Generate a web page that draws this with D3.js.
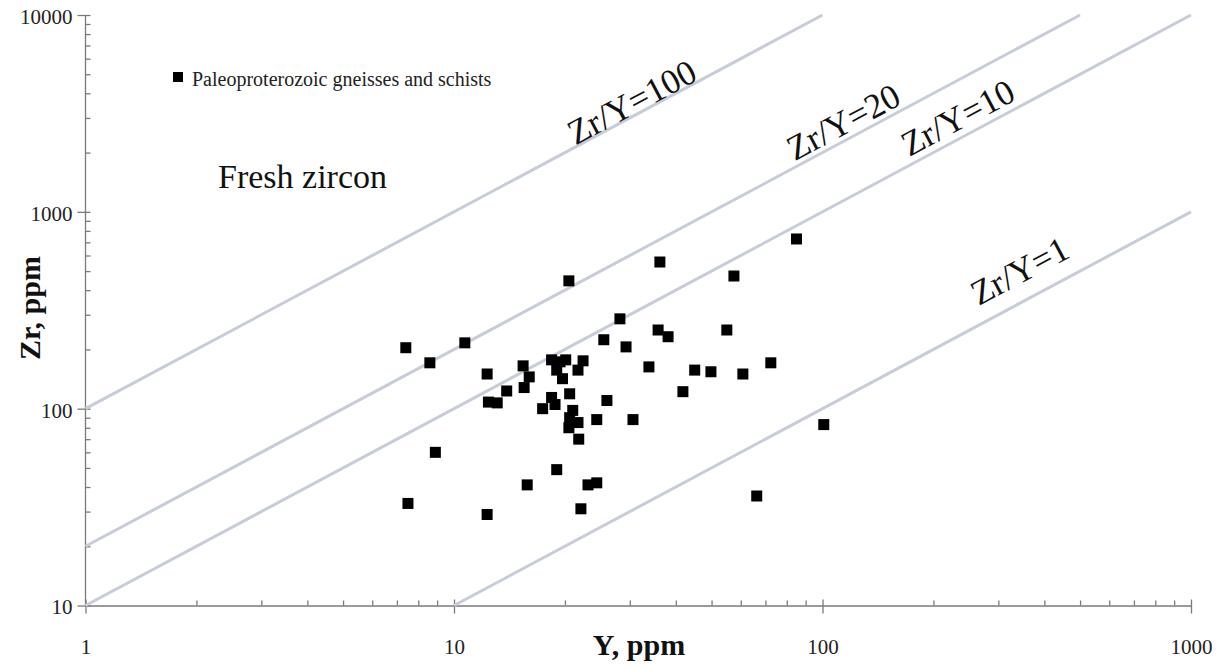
<!DOCTYPE html>
<html>
<head>
<meta charset="utf-8">
<script src="https://cdn.jsdelivr.net/npm/d3@7"></script>
<style>
  html, body { margin: 0; padding: 0; background: #fff; }
  svg { display: block; font-family: "Liberation Serif", "Times New Roman", serif; }
</style>
</head>
<body>
<div id="chart"></div>
<script>
// Zr vs Y, log-log, with Zr/Y reference lines
const width = 1229, height = 668;
const plot = {left: 85.5, right: 1191, top: 15, bottom: 605.5};

// sample values (Y ppm, Zr ppm)
const yPpm = [7.4, 10.7, 8.6, 12.3, 13.9, 12.4, 13.1, 8.9, 7.5, 12.3,
  15.4, 16.0, 15.5, 18.4, 19.4, 20.1, 19.0, 19.7, 22.4, 21.7,
  25.5, 29.3, 20.6, 18.4, 18.8, 17.4, 21.0, 20.6, 21.7, 20.5,
  21.8, 26.0, 24.4, 30.6, 19.0, 15.8, 23.1, 24.4, 22.1, 20.5,
  28.2, 36.2, 35.8, 85, 57.5, 38.1, 55, 33.8, 45, 49.8,
  60.8, 72.4, 41.8, 100.8, 66.3];
const zrPpm = [204, 216, 171, 150, 123, 108, 107, 60, 33, 29,
  165, 145, 128, 177, 173, 177, 157, 142, 175, 157,
  224, 206, 119, 114, 105, 100, 98, 90, 85, 80,
  70, 110, 88, 88, 49, 41, 41, 42, 31, 446,
  286, 556, 251, 728, 472, 232, 251, 163, 157, 154,
  150, 171, 122, 83, 36];

// reference lines Zr/Y = k, drawn between two Y values
const ratios = [100, 20, 10, 1];
const ratioFrom = [1, 1, 1, 10];
const ratioTo = [100, 500, 1000, 1000];
// label centres (Y, Zr) for each reference line
const labelY = [30.4, 114, 233, 343];
const labelZr = [3600, 2850, 3000, 500];

const xTicks = [1, 10, 100, 1000];
const yTicks = [10, 100, 1000, 10000];

const svg = d3.select("#chart").append("svg")
  .attr("width", width).attr("height", height);

const x = d3.scaleLog().domain([1, 1000]).range([plot.left, plot.right]);
const y = d3.scaleLog().domain([10, 10000]).range([plot.bottom, plot.top]);

const minorOf = ticks => {
  const out = [];
  ticks.slice(0, -1).forEach(t => { for (let m = 2; m < 10; m++) out.push(t * m); });
  return out;
};

const axisColor = "#7a7a7a";

// x axis
const gx = svg.append("g").attr("transform", `translate(0,${plot.bottom})`);
gx.call(d3.axisBottom(x).tickValues(minorOf(xTicks)).tickSizeInner(-5).tickSizeOuter(0).tickFormat(""));
const gx2 = svg.append("g").attr("transform", `translate(0,${plot.bottom})`);
gx2.call(d3.axisBottom(x).tickValues(xTicks).tickSizeOuter(0).tickFormat(d3.format("d")));
gx2.select(".domain").remove();
gx2.selectAll(".tick line").attr("y1", -6).attr("y2", 8);
gx2.selectAll(".tick text").attr("y", 34).attr("dy", "0.7em")
  .attr("font-size", 21).attr("font-family", "Liberation Serif").attr("fill", "#222");

// y axis
const gy = svg.append("g").attr("transform", `translate(${plot.left},0)`);
gy.call(d3.axisLeft(y).tickValues(minorOf(yTicks)).tickSizeInner(-5).tickSizeOuter(0).tickFormat(""));
gy.select(".domain").attr("d", `M0,${plot.bottom}V${plot.top}`);
const gy2 = svg.append("g").attr("transform", `translate(${plot.left},0)`);
gy2.call(d3.axisLeft(y).tickValues(yTicks).tickSizeOuter(0).tickFormat(d3.format("d")));
gy2.select(".domain").remove();
gy2.selectAll(".tick line").attr("x1", 5).attr("x2", -8);
gy2.selectAll(".tick text").attr("x", -13).attr("dy", "0.4em")
  .attr("font-size", 21).attr("font-family", "Liberation Serif").attr("fill", "#222");

svg.selectAll(".domain, .tick line").attr("stroke", axisColor).attr("stroke-width", 1.3);

// axis titles
svg.append("text").attr("x", 639).attr("y", 655).attr("text-anchor", "middle")
  .attr("font-size", 30).attr("font-weight", "bold").attr("fill", "#111").text("Y, ppm");
svg.append("text").attr("transform", "translate(40,308) rotate(-90)").attr("text-anchor", "middle")
  .attr("font-size", 30).attr("font-weight", "bold").attr("fill", "#111").text("Zr, ppm");

// reference lines
const angle = -Math.atan2(y(10) - y(100), x(10) - x(1)) * 180 / Math.PI;
ratios.forEach((k, i) => {
  svg.append("line")
    .attr("x1", x(ratioFrom[i])).attr("y1", y(ratioFrom[i] * k))
    .attr("x2", x(ratioTo[i])).attr("y2", y(ratioTo[i] * k))
    .attr("stroke", "#c7ccd9").attr("stroke-width", 3);
  svg.append("text")
    .attr("transform", `translate(${x(labelY[i])},${y(labelZr[i])}) rotate(${angle})`)
    .attr("text-anchor", "middle").attr("dominant-baseline", "central")
    .attr("font-size", 35).attr("fill", "#111")
    .text(`Zr/Y=${k}`);
});

svg.append("text").attr("x", 218).attr("y", 188).attr("font-size", 34)
  .attr("fill", "#111").text("Fresh zircon");

// points
const size = 11;
svg.append("g").selectAll("rect").data(yPpm).join("rect")
  .attr("x", (d, i) => x(d) - size / 2)
  .attr("y", (d, i) => y(zrPpm[i]) - size / 2)
  .attr("width", size).attr("height", size)
  .attr("fill", "#000");

// legend
const legend = svg.append("g").attr("transform", "translate(173,72)");
legend.append("rect").attr("width", 10).attr("height", 10).attr("fill", "#000");
legend.append("text").attr("x", 19).attr("y", 14).attr("font-size", 20)
  .attr("fill", "#222").text("Paleoproterozoic gneisses and schists");
</script>
</body>
</html>
